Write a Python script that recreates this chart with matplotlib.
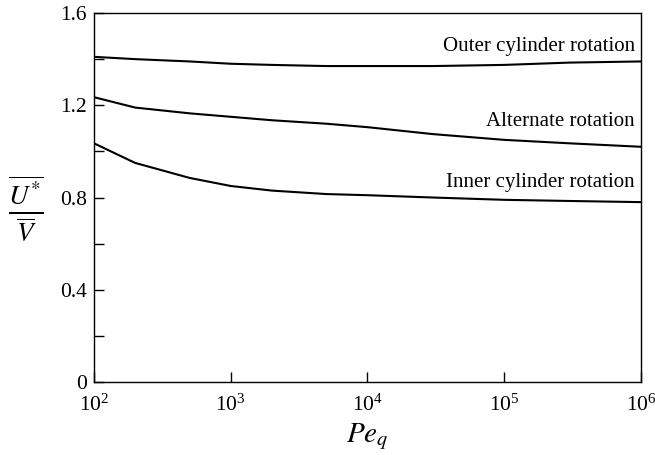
import matplotlib.pyplot as plt
from matplotlib.ticker import FixedLocator, FixedFormatter, NullLocator

plt.rcParams['font.family'] = 'Liberation Serif'
plt.rcParams['mathtext.fontset'] = 'stix'

# Peclet number samples and the mean-velocity ratio for each rotation mode
pe = [1e2, 2e2, 5e2, 1e3, 2e3, 5e3, 1e4, 3e4, 1e5, 3e5, 1e6]
outer = [1.41, 1.40, 1.39, 1.38, 1.375, 1.37, 1.37, 1.37, 1.375, 1.385, 1.39]
alternate = [1.235, 1.19, 1.165, 1.15, 1.135, 1.12, 1.105, 1.075, 1.05, 1.035, 1.02]
inner = [1.035, 0.95, 0.885, 0.85, 0.83, 0.815, 0.81, 0.80, 0.79, 0.785, 0.78]

labels = ['Outer cylinder rotation', 'Alternate rotation', 'Inner cylinder rotation']
label_y = [1.453, 1.128, 0.863]

yticks = [0, 0.4, 0.8, 1.2, 1.6]
ytick_labels = ['0', '0.4', '0.8', '1.2', '1.6']

fig = plt.figure(figsize=(6.55, 4.55), dpi=100)
ax = fig.add_axes([0.1435, 0.1604, 0.8351, 0.811])

for ys in (outer, alternate, inner):
    ax.plot(pe, ys, color='black', lw=1.5)

for txt, y in zip(labels, label_y):
    ax.text(9e5, y, txt, ha='right', va='center', fontsize=15)

ax.set_xscale('log')
ax.set_xlim(1e2, 1e6)
ax.set_ylim(0, 1.6)
ax.xaxis.set_minor_locator(NullLocator())
ax.yaxis.set_major_locator(FixedLocator(yticks))
ax.yaxis.set_major_formatter(FixedFormatter(ytick_labels))
ax.yaxis.set_minor_locator(FixedLocator([0.2, 0.6, 1.0, 1.4]))

ax.tick_params(which='both', direction='in', length=7, width=1, labelsize=15.5,
               top=False, right=False)
ax.tick_params(axis='x', pad=9)
ax.tick_params(axis='y', pad=5)
for s in ax.spines.values():
    s.set_linewidth(1)

ax.set_xlabel('$Pe_q$', fontsize=21, labelpad=4)
ax.set_ylabel(r'$\frac{\overline{U^{*}}}{\overline{V}}$', fontsize=28,
              rotation=0, va='center', ha='center')
ax.yaxis.set_label_coords(-0.125, 0.47)

fig.savefig('out.png', dpi=100)
